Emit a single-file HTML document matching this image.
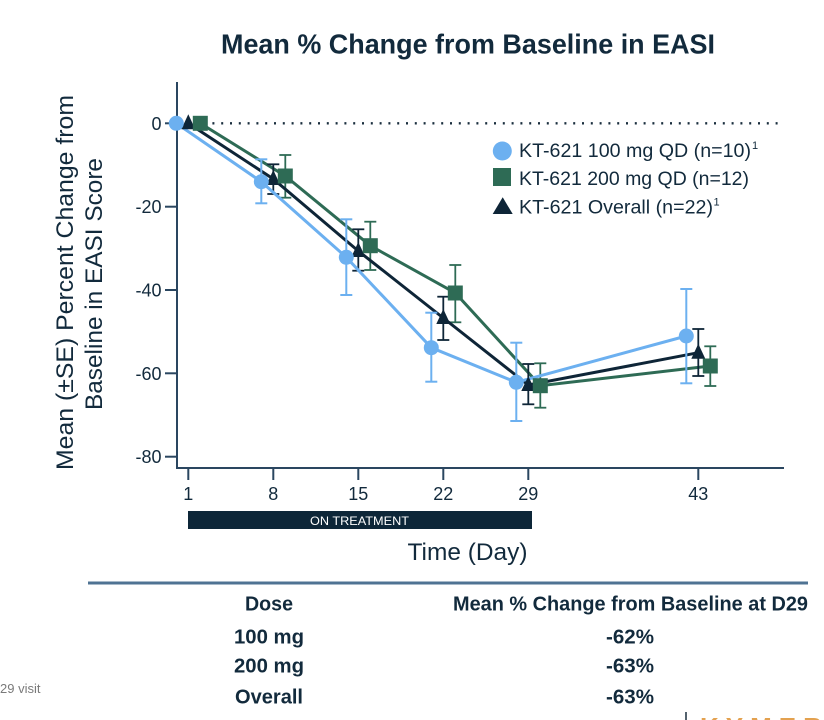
<!DOCTYPE html>
<html>
<head>
<meta charset="utf-8">
<style>
  html, body { margin:0; padding:0; background:#ffffff; }
  svg { display:block; }
  text { font-family: "Liberation Sans", "DejaVu Sans", sans-serif; }
</style>
</head>
<body>
<svg width="824" height="720" viewBox="0 0 824 720" xmlns="http://www.w3.org/2000/svg">
  <rect x="0" y="0" width="824" height="720" fill="#ffffff"/>

  <!-- Title -->
  <text x="468" y="53.5" text-anchor="middle" font-size="28" font-weight="bold" fill="#122a3c" textLength="494" lengthAdjust="spacingAndGlyphs">Mean % Change from Baseline in EASI</text>

  <!-- Y axis label -->
  <text transform="translate(73,282.5) rotate(-90)" text-anchor="middle" font-size="24" fill="#122a3c" textLength="375" lengthAdjust="spacingAndGlyphs">Mean (±SE) Percent Change from</text>
  <text transform="translate(102,284) rotate(-90)" text-anchor="middle" font-size="24" fill="#122a3c" textLength="252" lengthAdjust="spacingAndGlyphs">Baseline in EASI Score</text>

  <!-- Axes -->
  <g stroke="#2a4660" stroke-width="2" fill="none">
    <line x1="177" y1="82" x2="177" y2="469"/>
    <line x1="176" y1="468" x2="784" y2="468"/>
    <!-- y ticks -->
    <line x1="165" y1="123.3" x2="177" y2="123.3"/>
    <line x1="165" y1="206.7" x2="177" y2="206.7"/>
    <line x1="165" y1="290" x2="177" y2="290"/>
    <line x1="165" y1="373.3" x2="177" y2="373.3"/>
    <line x1="165" y1="456.7" x2="177" y2="456.7"/>
    <!-- x ticks -->
    <line x1="188.3" y1="468" x2="188.3" y2="480"/>
    <line x1="273.3" y1="468" x2="273.3" y2="480"/>
    <line x1="358.3" y1="468" x2="358.3" y2="480"/>
    <line x1="443.3" y1="468" x2="443.3" y2="480"/>
    <line x1="528.3" y1="468" x2="528.3" y2="480"/>
    <line x1="698.3" y1="468" x2="698.3" y2="480"/>
  </g>

  <!-- Y tick labels -->
  <g font-size="18" fill="#122a3c" text-anchor="end">
    <text x="161.5" y="129.8">0</text>
    <text x="161.5" y="213.2">-20</text>
    <text x="161.5" y="296.5">-40</text>
    <text x="161.5" y="379.8">-60</text>
    <text x="161.5" y="463.2">-80</text>
  </g>

  <!-- X tick labels -->
  <g font-size="18" fill="#122a3c" text-anchor="middle">
    <text x="188.3" y="500">1</text>
    <text x="273.3" y="500">8</text>
    <text x="358.3" y="500">15</text>
    <text x="443.3" y="500">22</text>
    <text x="528.3" y="500">29</text>
    <text x="698.3" y="500">43</text>
  </g>

  <!-- On treatment bar -->
  <rect x="188" y="511" width="344" height="18" fill="#0d2638"/>
  <text x="359.5" y="525" text-anchor="middle" font-size="12" fill="#ffffff" textLength="99" lengthAdjust="spacingAndGlyphs">ON TREATMENT</text>

  <!-- X axis label -->
  <text x="467.5" y="560" text-anchor="middle" font-size="24" fill="#122a3c" textLength="120" lengthAdjust="spacingAndGlyphs">Time (Day)</text>

  <!-- Zero reference dotted line -->
  <line x1="186" y1="123.3" x2="780" y2="123.3" stroke="#1a2e3e" stroke-width="2.4" stroke-dasharray="2 6.8" stroke-linecap="butt"/>

  <!-- Green series (200 mg) -->
  <g stroke="#2e6b55" fill="none">
    <polyline stroke-width="3" points="200.3,123.3 285.3,176 370.3,245.7 455.3,293 540.3,385.7 710.3,366"/>
    <g stroke-width="1.8">
      <line x1="285.3" y1="155" x2="285.3" y2="197.7"/><line x1="279.3" y1="155" x2="291.3" y2="155"/><line x1="279.3" y1="197.7" x2="291.3" y2="197.7"/>
      <line x1="370.3" y1="221.7" x2="370.3" y2="270"/><line x1="364.3" y1="221.7" x2="376.3" y2="221.7"/><line x1="364.3" y1="270" x2="376.3" y2="270"/>
      <line x1="455.3" y1="265" x2="455.3" y2="322.3"/><line x1="449.3" y1="265" x2="461.3" y2="265"/><line x1="449.3" y1="322.3" x2="461.3" y2="322.3"/>
      <line x1="540.3" y1="363.3" x2="540.3" y2="407.7"/><line x1="534.3" y1="363.3" x2="546.3" y2="363.3"/><line x1="534.3" y1="407.7" x2="546.3" y2="407.7"/>
      <line x1="710.3" y1="346.3" x2="710.3" y2="386"/><line x1="704.3" y1="346.3" x2="716.3" y2="346.3"/><line x1="704.3" y1="386" x2="716.3" y2="386"/>
    </g>
  </g>

  <!-- Navy series (Overall) -->
  <g stroke="#0e2537" fill="none">
    <polyline stroke-width="3" points="188.3,123.3 273.3,179 358.3,251 443.3,318 528.3,385 698.3,352.7"/>
    <g stroke-width="1.8">
      <line x1="273.3" y1="164.3" x2="273.3" y2="194"/><line x1="267.3" y1="164.3" x2="279.3" y2="164.3"/><line x1="267.3" y1="194" x2="279.3" y2="194"/>
      <line x1="358.3" y1="229.3" x2="358.3" y2="270.7"/><line x1="352.3" y1="229.3" x2="364.3" y2="229.3"/><line x1="352.3" y1="270.7" x2="364.3" y2="270.7"/>
      <line x1="443.3" y1="296.7" x2="443.3" y2="340"/><line x1="437.3" y1="296.7" x2="449.3" y2="296.7"/><line x1="437.3" y1="340" x2="449.3" y2="340"/>
      <line x1="528.3" y1="364" x2="528.3" y2="404.3"/><line x1="522.3" y1="364" x2="534.3" y2="364"/><line x1="522.3" y1="404.3" x2="534.3" y2="404.3"/>
      <line x1="698.3" y1="329" x2="698.3" y2="376"/><line x1="692.3" y1="329" x2="704.3" y2="329"/><line x1="692.3" y1="376" x2="704.3" y2="376"/>
    </g>
  </g>

  <!-- Blue series (100 mg) -->
  <g stroke="#6cb0f0" fill="none">
    <polyline stroke-width="3" points="176.3,123.3 261.3,181.7 346.3,257.3 431.3,347.7 516.3,382.3 686.3,336"/>
    <g stroke-width="2">
      <line x1="261.3" y1="159.3" x2="261.3" y2="203.3"/><line x1="255.3" y1="159.3" x2="267.3" y2="159.3"/><line x1="255.3" y1="203.3" x2="267.3" y2="203.3"/>
      <line x1="346.3" y1="219.3" x2="346.3" y2="295"/><line x1="340.3" y1="219.3" x2="352.3" y2="219.3"/><line x1="340.3" y1="295" x2="352.3" y2="295"/>
      <line x1="431.3" y1="312.7" x2="431.3" y2="381.7"/><line x1="425.3" y1="312.7" x2="437.3" y2="312.7"/><line x1="425.3" y1="381.7" x2="437.3" y2="381.7"/>
      <line x1="516.3" y1="342.7" x2="516.3" y2="421"/><line x1="510.3" y1="342.7" x2="522.3" y2="342.7"/><line x1="510.3" y1="421" x2="522.3" y2="421"/>
      <line x1="686.3" y1="289" x2="686.3" y2="383.3"/><line x1="680.3" y1="289" x2="692.3" y2="289"/><line x1="680.3" y1="383.3" x2="692.3" y2="383.3"/>
    </g>
  </g>

  <!-- Markers: triangles (navy) -->
  <g fill="#0e2537">
    <polygon points="188.3,114.3 181.3,129.3 195.3,129.3"/>
    <polygon points="273.3,170 266.3,185 280.3,185"/>
    <polygon points="358.3,242 351.3,257 365.3,257"/>
    <polygon points="443.3,309 436.3,324 450.3,324"/>
    <polygon points="528.3,376 521.3,391 535.3,391"/>
    <polygon points="698.3,343.7 691.3,358.7 705.3,358.7"/>
  </g>
  <!-- Markers: circles (blue) -->
  <g fill="#6cb0f0">
    <circle cx="176.3" cy="123.3" r="7.5"/>
    <circle cx="261.3" cy="181.7" r="7.5"/>
    <circle cx="346.3" cy="257.3" r="7.5"/>
    <circle cx="431.3" cy="347.7" r="7.5"/>
    <circle cx="516.3" cy="382.3" r="7.5"/>
    <circle cx="686.3" cy="336" r="7.5"/>
  </g>
  <!-- Markers: squares (green) -->
  <g fill="#2e6b55">
    <rect x="192.8" y="115.8" width="15" height="15"/>
    <rect x="277.8" y="168.5" width="15" height="15"/>
    <rect x="362.8" y="238.2" width="15" height="15"/>
    <rect x="447.8" y="285.5" width="15" height="15"/>
    <rect x="532.8" y="378.2" width="15" height="15"/>
    <rect x="702.8" y="358.5" width="15" height="15"/>
  </g>

  <!-- Legend -->
  <circle cx="502.3" cy="151" r="9.5" fill="#6cb0f0"/>
  <rect x="493" y="168" width="18" height="18" fill="#2e6b55"/>
  <polygon points="502.7,197.3 492.7,214 512.7,214" fill="#0e2537"/>
  <g font-size="19" fill="#122a3c">
    <text x="519" y="157" textLength="232" lengthAdjust="spacingAndGlyphs">KT-621 100 mg QD (n=10)</text>
    <text x="752" y="149" font-size="11">1</text>
    <text x="519" y="185" textLength="230" lengthAdjust="spacingAndGlyphs">KT-621 200 mg QD (n=12)</text>
    <text x="519" y="213.3" textLength="194" lengthAdjust="spacingAndGlyphs">KT-621 Overall (n=22)</text>
    <text x="713.5" y="205.5" font-size="11">1</text>
  </g>

  <!-- Table -->
  <line x1="88" y1="583" x2="808" y2="583" stroke="#4f7393" stroke-width="3"/>
  <g font-size="20" font-weight="bold" fill="#122a3c" text-anchor="middle">
    <text x="269" y="610.7" textLength="48" lengthAdjust="spacingAndGlyphs">Dose</text>
    <text x="630.5" y="610.7" textLength="355" lengthAdjust="spacingAndGlyphs">Mean % Change from Baseline at D29</text>
    <text x="269" y="643.3" textLength="70" lengthAdjust="spacingAndGlyphs">100 mg</text>
    <text x="269" y="672.7" textLength="70" lengthAdjust="spacingAndGlyphs">200 mg</text>
    <text x="269" y="703.3" textLength="68" lengthAdjust="spacingAndGlyphs">Overall</text>
    <text x="630" y="643.3" textLength="48" lengthAdjust="spacingAndGlyphs">-62%</text>
    <text x="630" y="672.7" textLength="48" lengthAdjust="spacingAndGlyphs">-63%</text>
    <text x="630" y="703.3" textLength="48" lengthAdjust="spacingAndGlyphs">-63%</text>
  </g>

  <!-- Footnote fragment -->
  <text x="0" y="693" font-size="13" fill="#7a7a7a">29 visit</text>

  <!-- Logo fragment -->
  <line x1="686" y1="712" x2="686" y2="720" stroke="#1a2e3e" stroke-width="1.5"/>
  <text x="700" y="736" font-size="26" font-weight="bold" fill="#e3a14f" letter-spacing="7">KYMERA</text>
</svg>
</body>
</html>
